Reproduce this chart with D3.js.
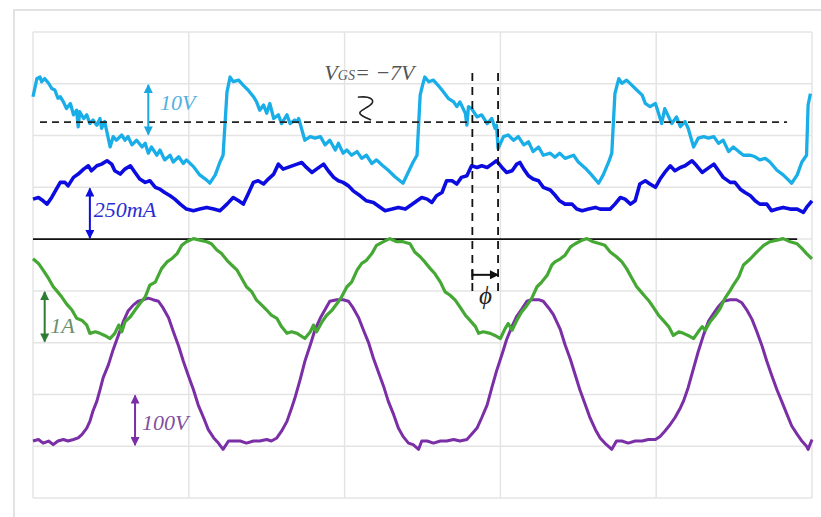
<!DOCTYPE html>
<html>
<head>
<meta charset="utf-8">
<script src="https://cdn.jsdelivr.net/npm/d3@7"></script>
<style>
  body { margin: 0; background: #fff; }
  svg text { font-family: "Liberation Serif", "DejaVu Serif", serif; font-style: italic; }
</style>
</head>
<body>
<div id="chart"></div>
<script>
// time base: 200 ns/div, 5 divisions; vertical graticule: 9 divisions
const timeTicks = [0, 200, 400, 600, 800, 1000];
const divTicks = [0, 1, 2, 3, 4, 5, 6, 7, 8, 9];

// gate-source voltage [ns, V]  (10 V/div)
const vgs = [[0,-2.1],[5,1.4],[9,1.7],[11,0.8],[15,1.4],[20,0.5],[24,-0.5],[28,-0.8],[32,-2.4],[35,-2.1],[39,-3.1],[43,-4.4],[48,-3.4],[52,-5.6],[56,-4.7],[58,-7.9],[60,-5.0],[65,-6.3],[69,-5.6],[73,-7.3],[77,-6.6],[82,-7.6],[86,-6.3],[88,-8.2],[92,-6.9],[99,-11.8],[103,-9.8],[107,-10.5],[114,-9.5],[118,-10.5],[122,-9.8],[127,-11.4],[133,-10.5],[140,-11.8],[144,-11.1],[148,-13.0],[152,-11.8],[159,-13.4],[163,-12.4],[169,-14.3],[176,-13.4],[180,-14.7],[187,-13.7],[193,-15.0],[197,-14.3],[206,-15.6],[214,-17.2],[223,-18.2],[227,-18.8],[234,-17.2],[240,-14.7],[244,-13.4],[249,-1.2],[253,1.7],[257,0.8],[264,1.1],[270,0.1],[276,-0.8],[283,-2.1],[287,-3.1],[291,-4.7],[296,-3.7],[300,-5.3],[304,-3.4],[309,-6.3],[315,-5.6],[319,-7.3],[326,-5.6],[330,-7.3],[336,-6.6],[339,-6.9],[341,-6.3],[349,-10.5],[356,-9.8],[362,-10.1],[369,-9.8],[375,-11.4],[381,-10.5],[388,-12.4],[392,-11.1],[398,-13.0],[403,-12.4],[409,-13.4],[416,-12.7],[422,-14.0],[428,-13.4],[435,-15.0],[441,-14.3],[448,-15.3],[456,-16.3],[465,-17.6],[475,-18.8],[482,-16.6],[488,-14.7],[493,-13.4],[497,-1.8],[500,0.1],[503,1.7],[508,0.8],[514,1.1],[520,0.1],[527,-1.2],[533,-2.4],[540,-3.1],[544,-4.0],[548,-3.1],[555,-5.3],[557,-7.6],[559,-4.0],[563,-4.4],[570,-6.0],[576,-5.6],[583,-7.3],[589,-6.3],[593,-8.2],[595,-7.6],[597,-12.1],[604,-9.8],[610,-9.5],[617,-10.5],[623,-9.8],[630,-11.4],[636,-10.8],[642,-12.7],[649,-11.8],[655,-13.4],[664,-13.0],[670,-13.8],[676,-13.0],[683,-14.0],[694,-13.4],[700,-14.7],[709,-15.9],[717,-17.2],[726,-18.8],[732,-17.2],[739,-14.7],[743,-13.0],[747,-1.5],[752,1.4],[756,0.5],[762,1.1],[769,0.1],[775,-0.8],[782,-1.8],[786,-3.4],[792,-4.0],[799,-3.4],[803,-5.3],[807,-7.3],[811,-4.4],[816,-6.0],[820,-7.3],[826,-6.0],[831,-7.9],[837,-6.9],[841,-8.2],[848,-11.8],[854,-10.1],[861,-9.8],[867,-10.1],[874,-9.8],[880,-11.1],[886,-10.5],[893,-12.7],[899,-11.8],[906,-12.7],[912,-13.4],[921,-13.4],[927,-13.7],[933,-14.3],[940,-14.0],[946,-14.7],[955,-16.3],[963,-17.2],[974,-18.8],[981,-17.2],[987,-14.7],[993,-13.4],[995,-3.7],[998,-1.5]];

// gate current [ns, mA]  (250 mA/div)
const igs = [[0,193],[7,201],[13,185],[18,169],[24,201],[30,241],[35,274],[41,274],[45,257],[52,298],[58,314],[65,338],[71,354],[75,330],[82,354],[88,362],[95,378],[101,362],[105,330],[112,314],[118,338],[125,354],[131,322],[137,290],[144,274],[150,282],[157,250],[163,241],[169,225],[176,209],[182,193],[189,169],[197,145],[206,137],[214,145],[223,153],[232,145],[240,137],[249,169],[257,201],[264,185],[270,169],[276,217],[283,274],[289,282],[296,266],[302,290],[309,314],[315,362],[321,338],[330,350],[339,362],[345,370],[351,346],[358,322],[364,338],[373,362],[379,330],[386,298],[392,282],[398,274],[405,257],[411,233],[420,209],[428,185],[437,177],[446,153],[452,137],[461,145],[469,153],[478,145],[484,161],[493,185],[499,201],[506,193],[512,177],[518,209],[525,225],[531,282],[538,282],[544,266],[550,298],[557,306],[563,354],[570,346],[576,354],[583,346],[589,362],[595,378],[602,346],[608,322],[615,330],[621,362],[625,370],[630,338],[636,306],[642,290],[649,282],[655,250],[664,237],[670,213],[676,185],[683,169],[692,169],[698,145],[705,137],[713,145],[722,153],[728,145],[734,145],[741,145],[747,169],[754,201],[760,193],[767,169],[773,185],[779,266],[786,282],[792,266],[799,250],[805,290],[811,322],[818,354],[824,330],[831,346],[837,354],[846,378],[852,354],[859,322],[865,338],[874,362],[880,330],[886,298],[895,274],[901,274],[908,241],[914,225],[921,209],[927,185],[933,169],[942,169],[948,137],[955,145],[963,153],[972,145],[981,145],[989,129],[993,153],[1000,185]];

// resonant current [ns, A]  (1 A/div)
const iout = [[0,0.62],[7,0.53],[13,0.40],[20,0.24],[26,0.08],[30,0.01],[37,-0.12],[43,-0.25],[50,-0.37],[56,-0.53],[63,-0.57],[69,-0.66],[73,-0.82],[80,-0.79],[86,-0.82],[92,-0.86],[99,-0.92],[105,-0.82],[110,-0.66],[114,-0.79],[118,-0.60],[125,-0.50],[131,-0.37],[137,-0.25],[144,-0.12],[150,0.11],[157,0.17],[161,0.30],[165,0.43],[172,0.56],[178,0.62],[185,0.72],[191,0.88],[197,0.95],[206,1.01],[214,0.98],[223,0.95],[229,0.91],[236,0.79],[242,0.72],[249,0.59],[255,0.50],[262,0.40],[268,0.24],[274,0.08],[281,-0.02],[287,-0.18],[294,-0.28],[300,-0.37],[306,-0.47],[313,-0.53],[319,-0.69],[326,-0.82],[332,-0.79],[339,-0.82],[349,-0.92],[356,-0.79],[360,-0.66],[364,-0.79],[371,-0.60],[377,-0.47],[384,-0.37],[390,-0.25],[396,-0.12],[403,0.08],[409,0.17],[416,0.40],[422,0.53],[428,0.59],[435,0.72],[441,0.88],[450,0.95],[458,1.01],[467,0.95],[475,0.95],[484,0.91],[490,0.75],[497,0.66],[503,0.56],[510,0.43],[516,0.33],[523,0.17],[529,-0.02],[535,-0.08],[542,-0.18],[548,-0.31],[555,-0.47],[561,-0.57],[568,-0.69],[572,-0.82],[578,-0.79],[587,-0.82],[593,-0.86],[600,-0.92],[606,-0.73],[610,-0.63],[615,-0.76],[621,-0.57],[627,-0.41],[634,-0.28],[640,-0.15],[647,0.08],[653,0.17],[660,0.30],[666,0.50],[670,0.56],[677,0.62],[683,0.69],[690,0.85],[696,0.91],[705,0.98],[711,1.01],[719,0.95],[728,0.91],[734,0.88],[741,0.75],[749,0.66],[756,0.56],[762,0.43],[769,0.24],[775,0.08],[779,0.01],[784,-0.08],[790,-0.18],[796,-0.31],[803,-0.47],[809,-0.57],[816,-0.69],[822,-0.86],[829,-0.79],[835,-0.82],[841,-0.86],[848,-0.92],[854,-0.79],[859,-0.69],[863,-0.76],[869,-0.60],[876,-0.47],[882,-0.34],[888,-0.15],[895,0.01],[899,0.11],[906,0.27],[912,0.50],[921,0.62],[929,0.75],[938,0.88],[946,0.95],[955,0.98],[963,1.01],[972,0.95],[981,0.91],[987,0.82],[993,0.72],[1000,0.62]];

// switch-node voltage [ns, V]  (100 V/div)
const vds = [[0,10],[7,13],[13,6],[20,10],[26,3],[32,10],[39,13],[45,10],[52,13],[58,16],[63,23],[69,35],[73,48],[77,68],[82,87],[86,109],[90,132],[97,158],[103,187],[110,216],[116,241],[122,261],[129,273],[135,280],[142,283],[148,286],[154,283],[161,280],[167,267],[174,248],[180,222],[187,193],[193,164],[199,138],[206,109],[212,80],[219,55],[225,32],[232,16],[238,6],[244,-6],[251,10],[257,10],[266,10],[274,6],[283,10],[291,10],[300,13],[306,10],[313,16],[319,29],[326,48],[332,74],[336,92],[343,129],[349,164],[356,196],[362,225],[369,248],[375,264],[381,280],[390,283],[398,283],[405,280],[411,267],[418,248],[424,225],[431,199],[437,170],[443,145],[450,116],[456,87],[463,61],[469,35],[475,19],[482,6],[488,3],[495,-6],[499,10],[506,10],[514,6],[523,10],[531,10],[540,13],[548,10],[557,13],[563,23],[570,35],[576,55],[583,80],[589,113],[595,145],[602,177],[608,206],[615,232],[621,251],[627,264],[634,280],[640,283],[649,283],[655,280],[662,267],[668,254],[677,225],[683,196],[690,167],[696,138],[702,109],[709,80],[715,55],[722,32],[728,16],[734,6],[743,-6],[749,10],[756,10],[764,6],[773,10],[782,10],[790,13],[799,13],[805,19],[811,29],[818,42],[824,55],[831,74],[835,87],[841,113],[848,151],[854,183],[861,216],[867,241],[874,257],[880,270],[886,280],[895,283],[903,283],[910,277],[916,264],[923,245],[929,222],[936,193],[942,164],[948,138],[955,109],[961,87],[968,61],[974,39],[981,23],[987,10],[993,0],[995,-6],[1000,13]];

const vgsLevel = -7;          // V, dashed reference
const phaseMarks = [564, 597]; // ns, phase shift markers

const width = 821, height = 517;
const margin = { top: 32, right: 9, bottom: 19, left: 33 };

const svg = d3.select('#chart').append('svg')
    .attr('width', width)
    .attr('height', height);

const x = d3.scaleLinear().domain([0, 1000]).range([margin.left, width - margin.right]);
const y = d3.scaleLinear().domain([0, 9]).range([height - margin.bottom, margin.top]);

// channel placement on the graticule
const channels = [
    { data: vgs, offset: 7.96, perDiv: 10, color: '#19aee8', width: 3.3 },
    { data: igs, offset: 5, perDiv: 250, color: '#0c0ce0', width: 3.6 },
    { data: vds, offset: 1, perDiv: 100, color: '#7a2fa6', width: 3 },
    { data: iout, offset: 4, perDiv: 1, color: '#45a834', width: 3.2 }
];

// outer frame
svg.append('rect')
    .attr('x', 14).attr('y', 10)
    .attr('width', 830).attr('height', 530)
    .attr('fill', 'none').attr('stroke', '#e2e2e2').attr('stroke-width', 2);

// graticule
const grid = svg.append('g').attr('stroke', '#e4e4e4').attr('stroke-width', 1.5);
timeTicks.forEach(t => {
    grid.append('line')
        .attr('x1', x(t)).attr('x2', x(t))
        .attr('y1', y(0)).attr('y2', y(9));
});
divTicks.forEach(d => {
    grid.append('line')
        .attr('x1', x(0)).attr('x2', x(1000))
        .attr('y1', y(d)).attr('y2', y(d));
});

// zero line of the gate current channel
svg.append('line')
    .attr('x1', x(0)).attr('x2', x(981))
    .attr('y1', y(channels[1].offset)).attr('y2', y(channels[1].offset))
    .attr('stroke', '#111').attr('stroke-width', 1.6);

// traces
channels.forEach(ch => {
    const line = d3.line()
        .x(d => x(d[0]))
        .y(d => y(ch.offset + d[1] / ch.perDiv));
    svg.append('path')
        .attr('d', line(ch.data))
        .attr('fill', 'none')
        .attr('stroke', ch.color)
        .attr('stroke-width', ch.width)
        .attr('stroke-linejoin', 'round');
});

// V_GS = -7 V dashed level
const vgsY = y(channels[0].offset + vgsLevel / channels[0].perDiv);
svg.append('line')
    .attr('x1', x(9)).attr('x2', x(968))
    .attr('y1', vgsY).attr('y2', vgsY)
    .attr('stroke', '#222').attr('stroke-width', 1.8)
    .attr('stroke-dasharray', '7,5');

// phase markers
phaseMarks.forEach(t => {
    svg.append('line')
        .attr('x1', x(t)).attr('x2', x(t))
        .attr('y1', y(8.21)).attr('y2', y(3.88))
        .attr('stroke', '#111').attr('stroke-width', 1.8)
        .attr('stroke-dasharray', '8,6');
});

// arrow heads
const defs = svg.append('defs');
function marker(id, color) {
    defs.append('marker')
        .attr('id', id)
        .attr('viewBox', '0 0 10 10')
        .attr('refX', 9).attr('refY', 5)
        .attr('markerWidth', 11).attr('markerHeight', 9)
        .attr('markerUnits', 'userSpaceOnUse')
        .attr('orient', 'auto-start-reverse')
        .append('path')
        .attr('d', 'M0,0L10,5L0,10z')
        .attr('fill', color);
}

const scaleArrows = [
    { id: 'a1', t: 148, from: 7.02, to: 7.98, color: '#1aa8e2', label: '10V', lt: 163, ld: 7.49, lcolor: '#52b0e2' },
    { id: 'a2', t: 73, from: 5.02, to: 5.98, color: '#0c0ce0', label: '250mA', lt: 78, ld: 5.43, lcolor: '#2b2bd6' },
    { id: 'a3', t: 15, from: 3.02, to: 3.98, color: '#2e7d32', label: '1A', lt: 22, ld: 3.19, lcolor: '#6a8f6a' },
    { id: 'a4', t: 131, from: 1.02, to: 1.98, color: '#7a2fa6', label: '100V', lt: 140, ld: 1.31, lcolor: '#80509f' }
];

scaleArrows.forEach(a => {
    marker(a.id, a.color);
    svg.append('line')
        .attr('x1', x(a.t)).attr('x2', x(a.t))
        .attr('y1', y(a.from)).attr('y2', y(a.to))
        .attr('stroke', a.color).attr('stroke-width', 2)
        .attr('marker-start', `url(#${a.id})`)
        .attr('marker-end', `url(#${a.id})`);
    svg.append('text')
        .attr('x', x(a.lt)).attr('y', y(a.ld))
        .attr('fill', a.lcolor)
        .attr('font-size', 22)
        .text(a.label);
});

// phase arrow
marker('aphi', '#111');
svg.append('line')
    .attr('x1', x(phaseMarks[0])).attr('x2', x(phaseMarks[1]))
    .attr('y1', y(4.31)).attr('y2', y(4.31))
    .attr('stroke', '#111').attr('stroke-width', 2)
    .attr('marker-end', 'url(#aphi)');
svg.append('line')
    .attr('x1', x(phaseMarks[0])).attr('x2', x(phaseMarks[0]))
    .attr('y1', y(4.41)).attr('y2', y(4.21))
    .attr('stroke', '#111').attr('stroke-width', 2);
svg.append('text')
    .attr('x', x(581)).attr('y', y(3.74))
    .attr('text-anchor', 'middle')
    .attr('fill', '#222')
    .attr('font-size', 25)
    .text('\u03D5');

// V_GS label and squiggle leader
const lbl = svg.append('text')
    .attr('x', x(374)).attr('y', y(8.07))
    .attr('fill', '#555')
    .attr('font-size', 22);
lbl.append('tspan').text('V');
lbl.append('tspan').attr('font-size', 14).text('GS');
lbl.append('tspan').text('= \u22127V');

const squiggle = [[417, 7.74], [430, 7.76], [439, 7.66], [430, 7.55], [417, 7.45], [422, 7.38], [434, 7.30]];
svg.append('path')
    .attr('d', d3.line().x(d => x(d[0])).y(d => y(d[1])).curve(d3.curveBasis)(squiggle))
    .attr('fill', 'none')
    .attr('stroke', '#222')
    .attr('stroke-width', 1.6);
</script>
</body>
</html>
